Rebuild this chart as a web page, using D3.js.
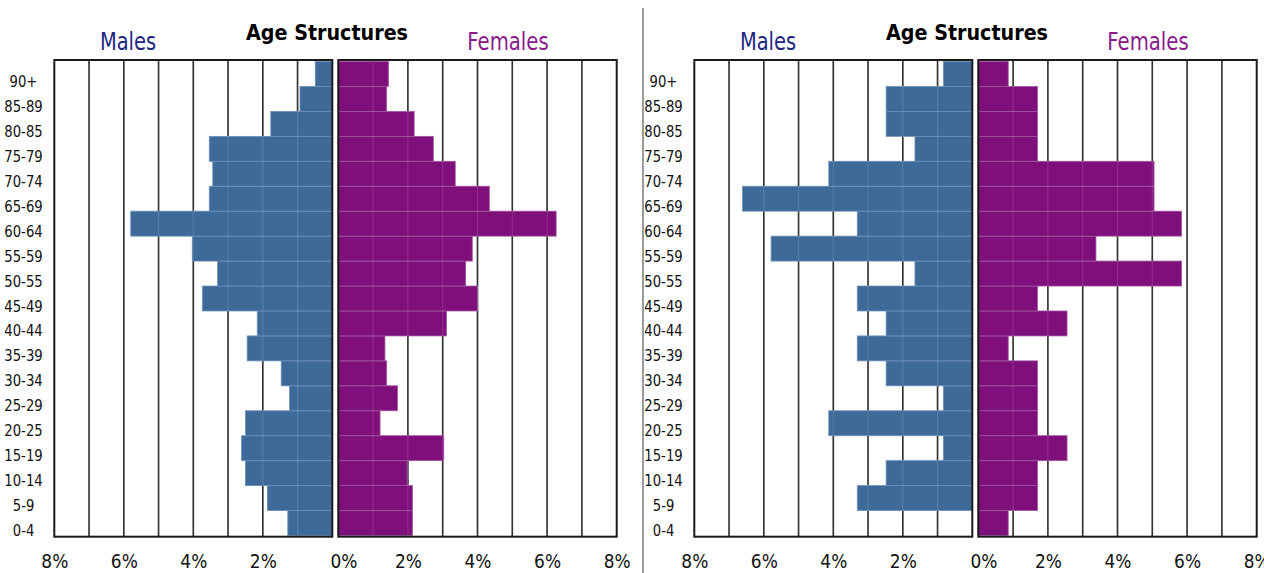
<!DOCTYPE html>
<html>
<head>
<meta charset="utf-8">
<title>Age Structures</title>
<script src="https://d3js.org/d3.v7.min.js"></script>
<style>
  body { margin: 0; background: #fff; }
  svg { display: block; font-family: "DejaVu Sans", Verdana, sans-serif; }
</style>
</head>
<body>
<div id="chart"></div>
<script>
// age groups, bottom to top
var ages = ["0-4", "5-9", "10-14", "15-19", "20-25", "25-29", "30-34", "35-39", "40-44",
            "45-49", "50-55", "55-59", "60-64", "65-69", "70-74", "75-79", "80-85", "85-89", "90+"];

// left pyramid (% of population)
var malesA   = [1.28, 1.87, 2.50, 2.61, 2.50, 1.23, 1.47, 2.45, 2.16, 3.74, 3.30, 4.03, 5.80, 3.54, 3.44, 3.54, 1.77, 0.93, 0.49];
var femalesA = [2.13, 2.13, 1.98, 3.03, 1.20, 1.70, 1.39, 1.34, 3.11, 4.00, 3.66, 3.85, 6.26, 4.34, 3.36, 2.73, 2.18, 1.39, 1.44];

// right pyramid
var malesB   = [0, 3.31, 2.48, 0.83, 4.13, 0.83, 2.48, 3.31, 2.48, 3.31, 1.65, 5.79, 3.31, 6.61, 4.13, 1.65, 2.48, 2.48, 0.83];
var femalesB = [0.86, 1.70, 1.70, 2.55, 1.70, 1.70, 1.70, 0.86, 2.55, 1.70, 5.84, 3.38, 5.84, 5.05, 5.05, 1.70, 1.70, 1.70, 0.86];

var maleTicks = [8, 6, 4, 2];
var femaleTicks = [0, 2, 4, 6, 8];
var gridSteps = [1, 2, 3, 4, 5, 6, 7];

var W = 1264, H = 573;
var blue = "#3e6a9a", purple = "#7e0f7b";

var svg = d3.select("#chart").append("svg")
    .attr("width", W)
    .attr("height", H);

// divider between the two charts
svg.append("line")
    .attr("x1", 643).attr("x2", 643)
    .attr("y1", 8).attr("y2", H)
    .attr("stroke", "#9a9a9a").attr("stroke-width", 2);

// text squeezed horizontally, the source picture is a bit narrow
function label(g, x, y, txt, size, sx, color, weight) {
  return g.append("text")
    .attr("transform", "translate(" + x + "," + y + ") scale(" + sx + ",1)")
    .attr("text-anchor", "middle")
    .attr("font-size", size)
    .attr("font-weight", weight || "normal")
    .attr("fill", color)
    .text(txt);
}

function pyramid(offset, males, females) {
  var g = svg.append("g").attr("transform", "translate(" + offset + ",0)");

  var xm = d3.scaleLinear().domain([8, 0]).range([54.3, 332.3]);
  var xf = d3.scaleLinear().domain([0, 8]).range([338.3, 616.7]);
  var y = d3.scaleBand().domain(ages.slice().reverse()).range([61.5, 535.5]);
  var top = 60, bottom = 536.7;

  // titles
  label(g, 327, 40, "Age Structures", 22, 0.87, "#000", "bold");
  label(g, 128, 50, "Males", 24, 0.81, "#1c2580");
  label(g, 508, 50, "Females", 24, 0.82, "#8a1a8a");

  [[xm, males, blue, "#6d8fb8"], [xf, females, purple, "#a155a0"]].forEach(function (p) {
    var x = p[0];
    var r = x.range();
    var x0 = Math.min(r[0], r[1]), x1 = Math.max(r[0], r[1]);

    // panel background + grid
    g.append("rect")
      .attr("x", x0).attr("y", top)
      .attr("width", x1 - x0).attr("height", bottom - top)
      .attr("fill", "#fff");

    g.selectAll(null).data(gridSteps).enter().append("line")
      .attr("x1", function (d) { return x(d); })
      .attr("x2", function (d) { return x(d); })
      .attr("y1", top).attr("y2", bottom)
      .attr("stroke", "#1a1a1a").attr("stroke-width", 1.6);

    // bars
    g.selectAll(null).data(p[1]).enter().append("rect")
      .attr("x", function (d) { return Math.min(x(0), x(d)); })
      .attr("y", function (d, i) { return y(ages[i]); })
      .attr("width", function (d) { return Math.abs(x(d) - x(0)); })
      .attr("height", y.bandwidth())
      .attr("fill", p[2])
      .attr("stroke", p[3])
      .attr("stroke-width", 0.8);

    // faint grid showing through the bars
    g.selectAll(null).data(gridSteps).enter().append("line")
      .attr("x1", function (d) { return x(d); })
      .attr("x2", function (d) { return x(d); })
      .attr("y1", top).attr("y2", bottom)
      .attr("stroke", "#fff").attr("stroke-opacity", 0.12).attr("stroke-width", 1.2);

    // frame
    g.append("rect")
      .attr("x", x0).attr("y", top)
      .attr("width", x1 - x0).attr("height", bottom - top)
      .attr("fill", "none")
      .attr("stroke", "#1a1a1a").attr("stroke-width", 2);
  });

  // age labels
  ages.forEach(function (a) {
    label(g, 23.5, y(a) + y.bandwidth() / 2 + 13, a, 15, 0.88, "#111");
  });

  // percent axes
  var axM = g.append("g").attr("transform", "translate(0,548)")
    .call(d3.axisBottom(xm).tickValues(maleTicks).tickSize(0).tickFormat(function (d) { return d + "%"; }));
  var axF = g.append("g").attr("transform", "translate(0,548)")
    .call(d3.axisBottom(xf).tickValues(femaleTicks).tickSize(0).tickFormat(function (d) { return d + "%"; }));
  [axM, axF].forEach(function (ax) {
    ax.select(".domain").remove();
    ax.selectAll("text")
      .attr("font-family", "DejaVu Sans, Verdana, sans-serif")
      .attr("font-size", 20)
      .attr("fill", "#111")
      .attr("y", 20).attr("dy", 0)
      .attr("transform", "scale(0.85,1)");
  });
  axF.selectAll(".tick").filter(function (d) { return d === 0; })
    .select("text").attr("x", 6);
}

pyramid(0, malesA, femalesA);
pyramid(640, malesB, femalesB);
</script>
</body>
</html>
